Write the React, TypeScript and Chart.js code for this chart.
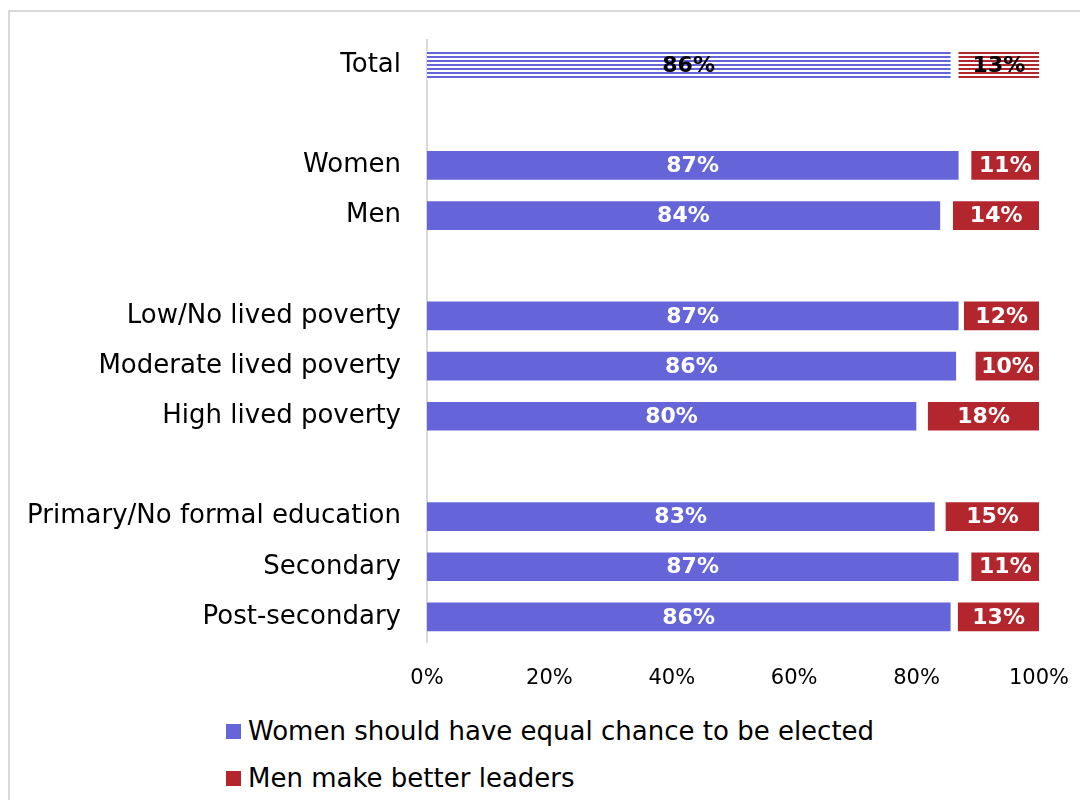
import React, { useEffect, useRef } from "react";
import { Chart, registerables } from "chart.js";

Chart.register(...registerables);

const categories = [
  "Total",
  "",
  "Women",
  "Men",
  " ",
  "Low/No lived poverty",
  "Moderate lived poverty",
  "High lived poverty",
  "  ",
  "Primary/No formal education",
  "Secondary",
  "Post-secondary",
];

// null = spacer rows
const equalChance: (number | null)[] = [85.5, null, 86.8, 83.8, null, 86.8, 86.4, 79.9, null, 82.9, 86.8, 85.5];
const betterLeaders: (number | null)[] = [13.1, null, 11.0, 14.0, null, 12.2, 10.3, 18.1, null, 15.2, 11.0, 13.2];

const seriesNames = ["Women should have equal chance to be elected", "Men make better leaders"];
const xTicks = [0, 20, 40, 60, 80, 100];

const BLUE = "#6565D9";
const RED = "#B3262E";
const FONT = "'DejaVu Sans', sans-serif";

function stripes(color: string): CanvasPattern | string {
  const c = document.createElement("canvas");
  c.width = 8;
  c.height = 4;
  const g = c.getContext("2d");
  if (!g) return color;
  g.fillStyle = "#ffffff";
  g.fillRect(0, 0, 8, 4);
  g.fillStyle = color;
  g.fillRect(0, 0, 8, 2);
  return g.createPattern(c, "repeat") || color;
}

const labelPlugin = {
  id: "barLabels",
  afterDatasetsDraw(chart: any) {
    const ctx = chart.ctx;
    const sources = [equalChance, betterLeaders];
    ctx.save();
    ctx.font = `bold 22px ${FONT}`;
    ctx.textAlign = "center";
    ctx.textBaseline = "middle";
    chart.data.datasets.forEach((_ds: any, di: number) => {
      const meta = chart.getDatasetMeta(di);
      meta.data.forEach((bar: any, i: number) => {
        const v = sources[di][i];
        if (v == null) return;
        const p = bar.getProps(["x", "base", "y"], true);
        ctx.fillStyle = i === 0 ? "#000000" : "#ffffff";
        ctx.fillText(Math.round(v) + "%", (p.x + p.base) / 2, p.y + 1);
      });
    });
    ctx.restore();
  },
};

export default function App() {
  const ref = useRef<HTMLCanvasElement | null>(null);

  useEffect(() => {
    if (!ref.current) return;
    const bluePat = stripes(BLUE);
    const redPat = stripes(RED);
    const chart = new Chart(ref.current, {
      type: "bar",
      data: {
        labels: categories,
        datasets: [
          {
            label: seriesNames[0],
            data: equalChance.map((v) => (v == null ? null : [0, v])) as any,
            backgroundColor: categories.map((_, i) => (i === 0 ? bluePat : BLUE)) as any,
            barThickness: 28,
            grouped: false,
          } as any,
          {
            label: seriesNames[1],
            data: betterLeaders.map((v) => (v == null ? null : [100 - v, 100])) as any,
            backgroundColor: categories.map((_, i) => (i === 0 ? redPat : RED)) as any,
            barThickness: 28,
            grouped: false,
          } as any,
        ],
      },
      options: {
        indexAxis: "y",
        responsive: false,
        animation: false,
        layout: { padding: { top: 28, right: 49, left: 0, bottom: 0 } },
        plugins: { legend: { display: false }, tooltip: { enabled: false } },
        scales: {
          x: {
            min: 0,
            max: 100,
            afterFit: (s: any) => {
              s.height = 70;
              s.paddingLeft = 0;
              s.paddingRight = 0;
            },
            afterBuildTicks: (s: any) => {
              s.ticks = xTicks.map((v) => ({ value: v }));
            },
            grid: { display: false, drawTicks: false },
            border: { display: false },
            ticks: {
              padding: 24,
              color: "#000000",
              font: { family: FONT, size: 21 },
              callback: (v: any) => v + "%",
            },
          },
          y: {
            afterFit: (s: any) => {
              s.width = 417;
              s.paddingTop = 0;
              s.paddingBottom = 0;
            },
            grid: { display: false, drawTicks: false },
            border: { display: true, color: "#d9d9d9", width: 2 },
            ticks: {
              padding: 26,
              color: "#000000",
              font: { family: FONT, size: 26 },
            },
          },
        },
      } as any,
      plugins: [labelPlugin],
    });
    return () => chart.destroy();
  }, []);

  const legendColors = [BLUE, RED];

  return (
    <div style={{ position: "relative", top: 2 }}>
      <div
        style={{
          position: "relative",
          borderTop: "2px solid #d9d9d9",
          borderLeft: "2px solid #d9d9d9",
          width: 1078,
          height: 790,
        }}
      >
        <canvas ref={ref} width={1078} height={700} style={{ display: "block" }} />
        {seriesNames.map((name, i) => (
          <div
            key={name}
            style={{
              position: "absolute",
              left: 216,
              top: 719 - 15 + i * 47,
              height: 30,
              display: "flex",
              alignItems: "center",
              fontFamily: FONT,
              fontSize: 26,
              color: "#000",
              whiteSpace: "nowrap",
            }}
          >
            <span
              style={{
                display: "inline-block",
                width: 15,
                height: 15,
                background: legendColors[i],
                marginRight: 7,
              }}
            />
            {name}
          </div>
        ))}
      </div>
    </div>
  );
}
